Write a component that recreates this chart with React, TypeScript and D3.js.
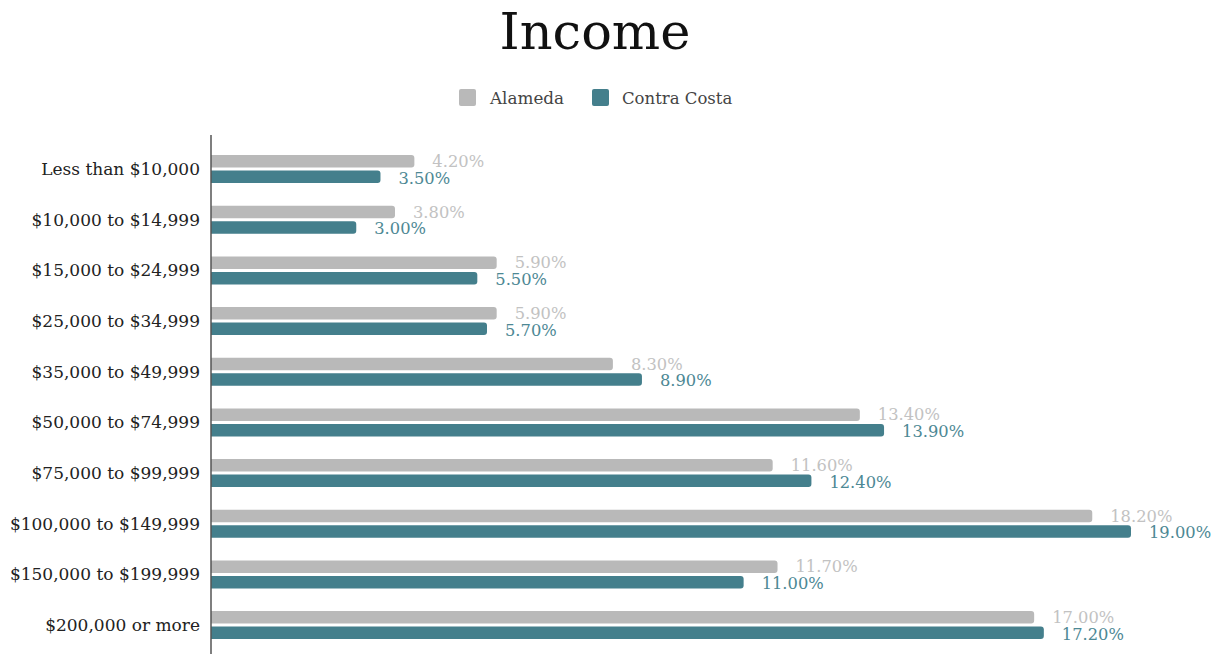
import React from "react";
import * as d3 from "d3";

const categories = [
  "Less than $10,000",
  "$10,000 to $14,999",
  "$15,000 to $24,999",
  "$25,000 to $34,999",
  "$35,000 to $49,999",
  "$50,000 to $74,999",
  "$75,000 to $99,999",
  "$100,000 to $149,999",
  "$150,000 to $199,999",
  "$200,000 or more",
];
const alameda = [4.2, 3.8, 5.9, 5.9, 8.3, 13.4, 11.6, 18.2, 11.7, 17.0];
const contraCosta = [3.5, 3.0, 5.5, 5.7, 8.9, 13.9, 12.4, 19.0, 11.0, 17.2];
const seriesNames = ["Alameda", "Contra Costa"];

const W = 1225;
const H = 654;
const FONT = "'DejaVu Serif', Georgia, serif";
const GREY = "#b9b9b9";
const TEAL = "#447f8c";
const GREY_LABEL = "#c2c2c2";
const TEAL_LABEL = "#4d8894";

export default function App() {
  const x = d3.scaleLinear().domain([0, 19]).range([211, 1131]);
  const y = d3
    .scaleBand<string>()
    .domain(categories)
    .range([143.7, 650.4])
    .paddingInner(0)
    .paddingOuter(0);
  const barH = 12.5;
  const gap = 3;
  const rr = (x0: number, y0: number, w: number, h: number, r: number) => {
    const p = d3.path();
    p.moveTo(x0, y0);
    p.lineTo(x0 + w - r, y0);
    p.arcTo(x0 + w, y0, x0 + w, y0 + r, r);
    p.lineTo(x0 + w, y0 + h - r);
    p.arcTo(x0 + w, y0 + h, x0 + w - r, y0 + h, r);
    p.lineTo(x0, y0 + h);
    p.closePath();
    return p.toString();
  };
  return (
    <svg width={W} height={H} style={{ position: "absolute", left: 0, top: 0, background: "#fff" }}>
      <text x={595} y={49} textAnchor="middle" fontFamily={FONT} fontSize={51} fill="#111">
        Income
      </text>
      {/* legend */}
      <rect x={459} y={89} width={17} height={17} rx={2} fill={GREY} />
      <text x={490} y={104} fontFamily={FONT} fontSize={16.8} fill="#444">{seriesNames[0]}</text>
      <rect x={592} y={89} width={17} height={17} rx={2} fill={TEAL} />
      <text x={622} y={104} fontFamily={FONT} fontSize={16.5} fill="#444">{seriesNames[1]}</text>

      {categories.map((c, i) => {
        const cy = (y(c) as number) + y.bandwidth() / 2;
        const y1 = cy - gap / 2 - barH;
        const y2 = cy + gap / 2;
        const a = alameda[i];
        const b = contraCosta[i];
        return (
          <g key={c}>
            <text x={200} y={cy + 6} textAnchor="end" fontFamily={FONT} fontSize={17} fill="#222">
              {c}
            </text>
            <path d={rr(x(0), y1, x(a) - x(0), barH, 3)} fill={GREY} />
            <path d={rr(x(0), y2, x(b) - x(0), barH, 3)} fill={TEAL} />
            <text x={x(a) + 18} y={y1 + 12} fontFamily={FONT} fontSize={16.3} fill={GREY_LABEL}>
              {a.toFixed(2)}%
            </text>
            <text x={x(b) + 18} y={y2 + 13} fontFamily={FONT} fontSize={16.3} fill={TEAL_LABEL}>
              {b.toFixed(2)}%
            </text>
          </g>
        );
      })}
      <line x1={211} x2={211} y1={135} y2={654} stroke="#555" strokeWidth={1.5} />
    </svg>
  );
}
